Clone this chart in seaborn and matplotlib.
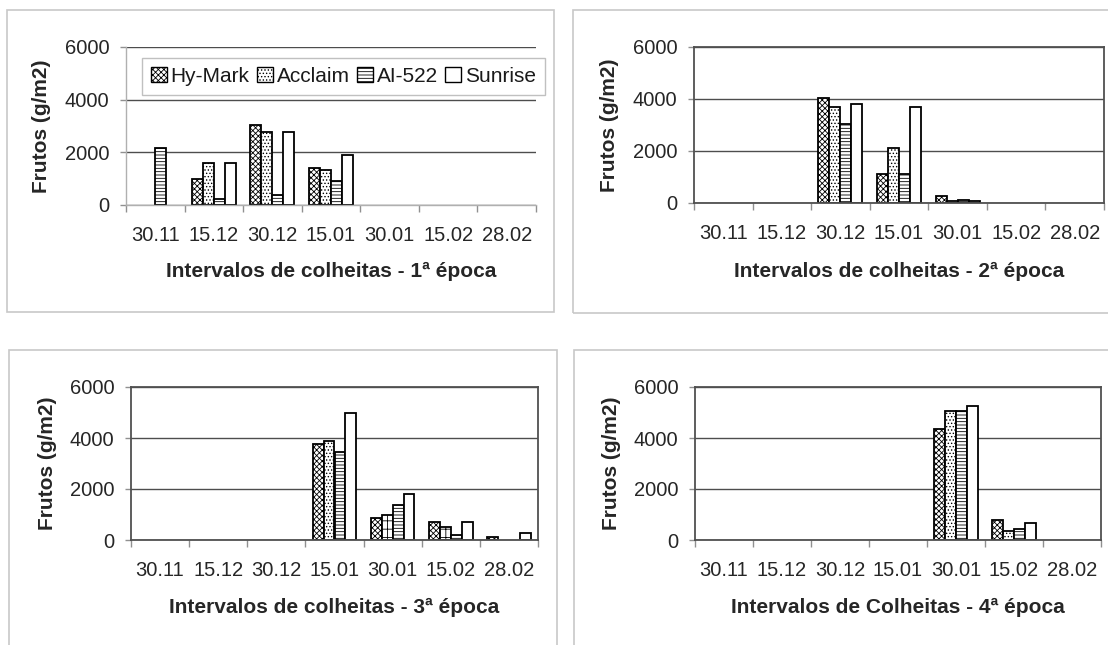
import numpy as np
import pandas as pd
import matplotlib
matplotlib.use("Agg")
import matplotlib.pyplot as plt
import matplotlib.patches as mpatches
import seaborn as sns

# -------------------------------
# Data (g/m2 of fruit per harvest date)
# -------------------------------
dates = ["30.11", "15.12", "30.12", "15.01", "30.01", "15.02", "28.02"]
cultivars = ["Hy-Mark", "Acclaim", "AI-522", "Sunrise"]

# 1ª época
e1_hymark = [0, 1000, 3050, 1400, 0, 0, 0]
e1_acclaim = [0, 1600, 2780, 1320, 0, 0, 0]
e1_ai522 = [2150, 230, 370, 900, 0, 0, 0]
e1_sunrise = [0, 1600, 2780, 1880, 0, 0, 0]

# 2ª época
e2_hymark = [0, 0, 4020, 1130, 270, 0, 0]
e2_acclaim = [0, 0, 3680, 2130, 80, 0, 0]
e2_ai522 = [0, 0, 3040, 1130, 130, 0, 0]
e2_sunrise = [0, 0, 3820, 3680, 80, 0, 0]

# 3ª época
e3_hymark = [0, 0, 0, 3750, 860, 720, 130]
e3_acclaim = [0, 0, 0, 3890, 1000, 500, 0]
e3_ai522 = [0, 0, 0, 3460, 1370, 210, 0]
e3_sunrise = [0, 0, 0, 4980, 1800, 720, 270]

# 4ª época
e4_hymark = [0, 0, 0, 0, 4340, 780, 0]
e4_acclaim = [0, 0, 0, 0, 5060, 340, 0]
e4_ai522 = [0, 0, 0, 0, 5060, 420, 0]
e4_sunrise = [0, 0, 0, 0, 5270, 650, 0]

xlabels = [
    "Intervalos de colheitas - 1ª época",
    "Intervalos de colheitas - 2ª época",
    "Intervalos de colheitas - 3ª época",
    "Intervalos de Colheitas - 4ª época",
]
ylabel = "Frutos (g/m2)"


def to_frame(hm, ac, ai, su):
    rows = []
    for name, vals in zip(cultivars, [hm, ac, ai, su]):
        for d, v in zip(dates, vals):
            rows.append({"Data": d, "Cultivar": name, "Frutos": v})
    return pd.DataFrame(rows)


panels = [
    to_frame(e1_hymark, e1_acclaim, e1_ai522, e1_sunrise),
    to_frame(e2_hymark, e2_acclaim, e2_ai522, e2_sunrise),
    to_frame(e3_hymark, e3_acclaim, e3_ai522, e3_sunrise),
    to_frame(e4_hymark, e4_acclaim, e4_ai522, e4_sunrise),
]

# -------------------------------
# Style
# -------------------------------
sns.set_style("white")
plt.rcParams["font.family"] = ["Liberation Sans", "DejaVu Sans"]
plt.rcParams["hatch.linewidth"] = 0.6
plt.rcParams["text.color"] = "#1a1a1a"

hatches = ["xxxxxx", ".....", "-----", ""]
W, H = 1108, 645

fig = plt.figure(figsize=(W / 100, H / 100), dpi=100)

# light grey chart-area frames (pixel boxes: x0, y0, x1, y1)
frames = [(7, 10, 554, 312), (573, 10, 1120, 313), (9, 350, 557, 660), (574, 350, 1120, 660)]
for x0, y0, x1, y1 in frames:
    fig.add_artist(mpatches.Rectangle((x0 / W, 1 - y1 / H), (x1 - x0) / W, (y1 - y0) / H,
                                      transform=fig.transFigure, fill=False,
                                      edgecolor="#c8c8c8", linewidth=1.2))

# plot areas in pixels (left, top, right, bottom)
areas = [(126, 47, 536, 205), (694, 47, 1104, 203), (131, 387, 538, 540), (695, 387, 1101, 540)]
xlab_y = [-0.423, -0.44, -0.438, -0.438]

for i, (df, (l, t, r, b)) in enumerate(zip(panels, areas)):
    ax = fig.add_axes([l / W, 1 - b / H, (r - l) / W, (b - t) / H])
    sns.barplot(data=df, x="Data", y="Frutos", hue="Cultivar", order=dates,
                hue_order=cultivars, palette={c: "white" for c in cultivars},
                saturation=1, width=0.75, edgecolor="black", linewidth=1.3,
                errorbar=None, legend=False, ax=ax)

    for cont, h in zip(ax.containers, hatches):
        for bar in cont:
            bar.set_hatch(h)
            if bar.get_height() == 0:
                bar.set_visible(False)

    # 3ª época: Acclaim at 30.01 and 15.02 printed with a different fill
    if i == 2:
        for j in (4, 5):
            ax.containers[1][j].set_hatch("++")

    ax.set_xlim(-0.5, len(dates) - 0.5)
    ax.set_ylim(0, 6000)
    ax.set_yticks([0, 2000, 4000, 6000])
    ax.set_axisbelow(True)
    ax.yaxis.grid(True, color="#4d4d4d", linewidth=1)
    ax.xaxis.grid(False)

    ax.set_xticks(np.arange(-0.5, len(dates), 1), minor=True)
    ax.tick_params(axis="x", which="major", length=0, pad=15, labelsize=14.5, bottom=True)
    ax.tick_params(axis="x", which="minor", length=5, width=1, color="#909090",
                   direction="out", bottom=True)
    ax.tick_params(axis="y", which="major", length=4, width=1, color="#909090",
                   direction="out", pad=8, labelsize=14.5, left=True)

    ax.set_xlabel(xlabels[i], fontsize=15, fontweight="bold")
    ax.set_ylabel(ylabel, fontsize=15, fontweight="bold")
    ax.xaxis.label.set_va("center")
    ax.xaxis.set_label_coords(0.5, xlab_y[i])
    ax.yaxis.label.set_va("center")
    ax.yaxis.set_label_coords(-0.205, 0.5)

    if i == 0:
        for s in ["top", "right"]:
            ax.spines[s].set_visible(False)
        for s in ["left", "bottom"]:
            ax.spines[s].set_color("#b0b0b0")
            ax.spines[s].set_linewidth(1)
        handles = [mpatches.Patch(facecolor="white", edgecolor="black", hatch=h,
                                  linewidth=1, label=c) for c, h in zip(cultivars, hatches)]
        leg = ax.legend(handles=handles, ncol=4, loc="center",
                        bbox_to_anchor=((148 + 539) / 2 / W, 1 - 76.5 / H),
                        bbox_transform=fig.transFigure, fontsize=15,
                        handlelength=0.75, handleheight=0.75, handletextpad=0.2,
                        columnspacing=0.35, borderpad=0.45, frameon=True,
                        fancybox=False, edgecolor="#c0c0c0", framealpha=1)
        leg.get_frame().set_linewidth(1)
    else:
        for s in ax.spines.values():
            s.set_visible(True)
            s.set_color("#505050")
            s.set_linewidth(1.3)

fig.savefig("out.png", dpi=100)
